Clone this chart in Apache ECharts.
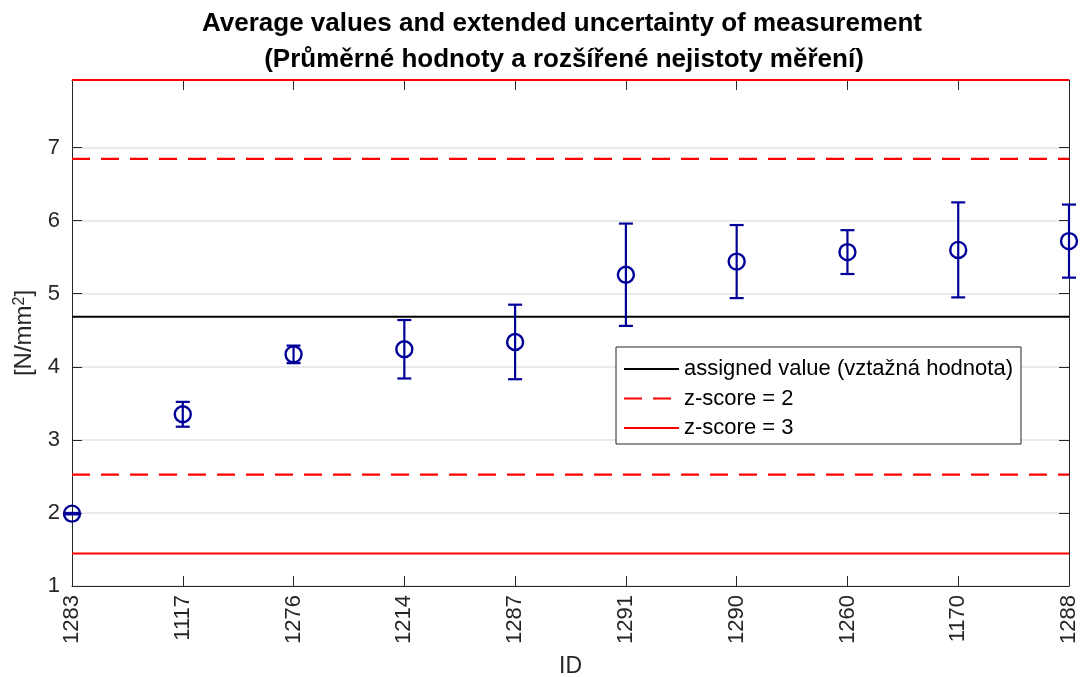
<!DOCTYPE html>
<html>
<head>
<meta charset="utf-8">
<script src="https://cdn.jsdelivr.net/npm/echarts@6/dist/echarts.min.js"></script>
<style>
  html, body { margin: 0; padding: 0; background: #fff; }
  #chart { width: 1083px; height: 677px; }
</style>
</head>
<body>
<div id="chart"></div>
<script>
// Participant IDs, in plotted order
const ids = ['1283', '1117', '1276', '1214', '1287', '1291', '1290', '1260', '1170', '1288'];
// Average measured values [N/mm²]
const means = [1.99, 3.35, 4.17, 4.24, 4.34, 5.26, 5.44, 5.57, 5.60, 5.72];
// Extended uncertainty (half-length of each error bar)
const uncertainties = [0.01, 0.17, 0.12, 0.40, 0.51, 0.70, 0.50, 0.30, 0.65, 0.50];

// Reference levels
const assignedValue = 4.685;
const zScore2 = [2.525, 6.845];
const zScore3 = [1.445, 7.925];

const yTicks = [1, 2, 3, 4, 5, 6, 7];

const FONT = '"Liberation Sans", Arial, Helvetica, sans-serif';
const INK = '#262626';
const BLUE = '#000099';

const first = ids[0], last = ids[ids.length - 1];
const hLine = v => [[first, v], [last, v]];

const chart = echarts.init(document.getElementById('chart'), null, { renderer: 'canvas' });

const errorData = ids.map((id, i) => [id, means[i] - uncertainties[i], means[i] + uncertainties[i]]);

chart.setOption({
  animation: false,
  backgroundColor: '#fff',
  title: [
    {
      text: 'Average values and extended uncertainty of measurement',
      left: 562, top: 11, textAlign: 'center', padding: 0,
      textStyle: { fontFamily: FONT, fontWeight: 'bold', fontSize: 26, color: '#000' }
    },
    {
      text: '(Průměrné hodnoty a rozšířené nejistoty měření)',
      left: 564, top: 47, textAlign: 'center', padding: 0,
      textStyle: { fontFamily: FONT, fontWeight: 'bold', fontSize: 26, color: '#000' }
    }
  ],
  grid: { left: 72, right: 14, top: 80, bottom: 91, show: false, containLabel: false, outerBoundsMode: 'none' },
  legend: {
    orient: 'vertical',
    left: 616, top: 347,
    padding: [11, 8, 5, 7],
    itemWidth: 55, itemHeight: 20, itemGap: 7.5,
    borderColor: INK, borderWidth: 1, backgroundColor: '#fff',
    itemStyle: { opacity: 0 },
    textStyle: { fontFamily: FONT, fontSize: 22, lineHeight: 18, height: 18, color: '#000' },
    data: ['assigned value (vztažná hodnota)', 'z-score = 2', 'z-score = 3']
  },
  xAxis: [
    {
      type: 'category', data: ids, boundaryGap: false,
      name: 'ID', nameLocation: 'middle', nameGap: 69,
      nameTextStyle: { fontFamily: FONT, fontSize: 23, color: INK },
      axisLine: { show: true, lineStyle: { color: INK, width: 1 } },
      axisTick: { show: true, inside: true, length: 10, alignWithLabel: true, lineStyle: { color: INK } },
      axisLabel: { rotate: 90, fontFamily: FONT, fontSize: 22, color: INK, margin: 9, interval: 0 },
      splitLine: { show: false }
    },
    {
      type: 'category', data: ids, boundaryGap: false, position: 'top',
      axisLine: { show: true, lineStyle: { color: INK, width: 1 } },
      axisTick: { show: true, inside: true, length: 10, lineStyle: { color: INK } },
      axisLabel: { show: false },
      splitLine: { show: false }
    }
  ],
  yAxis: [
    {
      type: 'value', min: yTicks[0], max: zScore3[1], interval: 1,
      name: '[N/mm{sup|2}]', nameLocation: 'middle', nameGap: 22, nameRotate: 90,
      nameTextStyle: {
        fontFamily: FONT, fontSize: 24, color: INK,
        rich: { sup: { fontFamily: FONT, fontSize: 16, color: INK, verticalAlign: 'top', padding: [0, 0, 10, 0] } }
      },
      axisLine: { show: true, lineStyle: { color: INK, width: 1 } },
      axisTick: { show: true, inside: true, length: 10, lineStyle: { color: INK } },
      axisLabel: {
        fontFamily: FONT, fontSize: 22, color: INK, margin: 12,
        formatter: v => (yTicks.includes(v) ? String(v) : '')
      },
      splitLine: { show: true, lineStyle: { color: '#e3e3e3', width: 1.5 } }
    },
    {
      type: 'value', min: yTicks[0], max: zScore3[1], interval: 1, position: 'right',
      axisLine: { show: true, lineStyle: { color: INK, width: 1 } },
      axisTick: { show: true, inside: true, length: 10, lineStyle: { color: INK } },
      axisLabel: { show: false },
      splitLine: { show: false }
    }
  ],
  series: [
    {
      name: 'error bars',
      type: 'custom',
      z: 3,
      data: errorData,
      renderItem: (params, api) => {
        const x = api.value(0);
        const lo = api.coord([x, api.value(1)]);
        const hi = api.coord([x, api.value(2)]);
        const cap = 7;
        const style = { stroke: BLUE, lineWidth: 2.2, fill: null };
        return {
          type: 'group',
          children: [
            { type: 'line', shape: { x1: lo[0], y1: lo[1], x2: hi[0], y2: hi[1] }, style },
            { type: 'line', shape: { x1: hi[0] - cap, y1: hi[1], x2: hi[0] + cap, y2: hi[1] }, style },
            { type: 'line', shape: { x1: lo[0] - cap, y1: lo[1], x2: lo[0] + cap, y2: lo[1] }, style }
          ]
        };
      }
    },
    {
      name: 'average',
      type: 'scatter',
      z: 4,
      symbol: 'circle',
      symbolSize: 16,
      itemStyle: { color: 'rgba(0,0,0,0)', borderColor: BLUE, borderWidth: 2.4, opacity: 1 },
      data: ids.map((id, i) => [id, means[i]])
    },
    {
      name: 'assigned value (vztažná hodnota)',
      type: 'line', symbol: 'none', z: 2,
      lineStyle: { color: '#000', width: 2.2 },
      itemStyle: { color: '#000' },
      data: hLine(assignedValue)
    },
    {
      name: 'z-score = 2',
      type: 'line', symbol: 'none', z: 2,
      lineStyle: { color: '#ff0000', width: 2.2, type: [18, 11] },
      itemStyle: { color: '#ff0000' },
      data: hLine(zScore2[0])
    },
    {
      name: 'z-score = 2',
      type: 'line', symbol: 'none', z: 2,
      lineStyle: { color: '#ff0000', width: 2.2, type: [18, 11] },
      itemStyle: { color: '#ff0000' },
      data: hLine(zScore2[1])
    },
    {
      name: 'z-score = 3',
      type: 'line', symbol: 'none', z: 2,
      lineStyle: { color: '#ff0000', width: 2.2 },
      itemStyle: { color: '#ff0000' },
      data: hLine(zScore3[0])
    },
    {
      name: 'z-score = 3',
      type: 'line', symbol: 'none', z: 2,
      lineStyle: { color: '#ff0000', width: 2.2 },
      itemStyle: { color: '#ff0000' },
      data: hLine(zScore3[1])
    }
  ]
});
</script>
</body>
</html>
